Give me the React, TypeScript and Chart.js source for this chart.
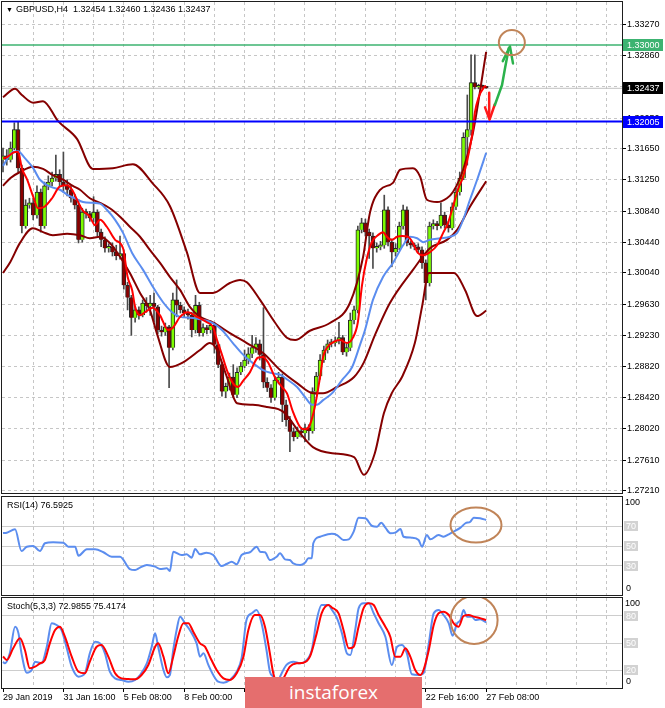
import { useEffect, useRef } from 'react'
import { Chart, registerables } from 'chart.js'

Chart.register(...registerables)

const FONT_FAMILY = '"Liberation Sans", Arial, sans-serif'
Chart.defaults.font.family = FONT_FAMILY
Chart.defaults.font.size = 9
Chart.defaults.color = '#000'

// time axis in bar units (H4 bars, bar 0 = 29 Jan 2019 00:00)
const X_MIN = -0.265
const X_MAX = 163.98
const Y_MIN = 1.27184
const Y_MAX = 1.33557

const timeLabels = [
  '29 Jan 2019', '31 Jan 16:00', '5 Feb 08:00', '8 Feb 00:00', '12 Feb 16:00',
  '15 Feb 08:00', '20 Feb 00:00', '22 Feb 16:00', '27 Feb 08:00',
]
const priceTicks = [
  1.3327, 1.3286, 1.3246, 1.3205, 1.3165, 1.3125, 1.3084, 1.3044,
  1.3004, 1.2963, 1.2923, 1.2882, 1.2842, 1.2802, 1.2761, 1.2721,
]
const rsiLevels = [30, 50, 70]
const stochLevels = [20, 50, 80]

const resistance = 1.33
const support = 1.32005
const bid = 1.32437

const opens = [
  1.3151, 1.3156, 1.3151, 1.3166, 1.3190, 1.3140, 1.3065, 1.3092, 1.3095, 1.3079,
  1.3109, 1.3065, 1.3117, 1.3122, 1.3127, 1.3132, 1.3122, 1.3117, 1.3112, 1.3101,
  1.3092, 1.3047, 1.3083, 1.3081, 1.3075, 1.3083, 1.3057, 1.3047, 1.3036, 1.3038,
  1.3031, 1.3026, 1.3029, 1.2988, 1.2972, 1.2946, 1.2956, 1.2949, 1.2965, 1.2961,
  1.2965, 1.2960, 1.2930, 1.2927, 1.2934, 1.2907, 1.2969, 1.2962, 1.2956, 1.2952,
  1.2949, 1.2930, 1.2962, 1.2926, 1.2933, 1.2930, 1.2936, 1.2911, 1.2885, 1.2850,
  1.2857, 1.2869, 1.2846, 1.2875, 1.2883, 1.2891, 1.2899, 1.2907, 1.2912, 1.2898,
  1.2862, 1.2855, 1.2842, 1.2865, 1.2869, 1.2833, 1.2813, 1.2798, 1.2791, 1.2799,
  1.2796, 1.2803, 1.2799, 1.2850, 1.2870, 1.2891, 1.2904, 1.2912, 1.2913, 1.2916,
  1.2920, 1.2901, 1.2907, 1.2943, 1.2956, 1.3060, 1.3069, 1.3057, 1.3052, 1.3036,
  1.3038, 1.3040, 1.3086, 1.3044, 1.3031, 1.3036, 1.3065, 1.3086, 1.3043, 1.3040,
  1.3038, 1.3034, 1.3017, 1.2991, 1.3065, 1.3068, 1.3065, 1.3079, 1.3066, 1.3062,
  1.3090, 1.3109, 1.3127, 1.3180, 1.3190, 1.3251, 1.3245, 1.3247, 1.32454,
]
const highs = [
  1.3166, 1.3164, 1.3174, 1.3199, 1.3200, 1.3144, 1.3099, 1.3101, 1.3101, 1.3117,
  1.3113, 1.3122, 1.3130, 1.3135, 1.3157, 1.3138, 1.3161, 1.3125, 1.3117, 1.3106,
  1.3099, 1.3088, 1.3087, 1.3084, 1.3103, 1.3086, 1.3061, 1.3051, 1.3042, 1.3043,
  1.3040, 1.3052, 1.3034, 1.2992, 1.2975, 1.2961, 1.2960, 1.2969, 1.2972, 1.2975,
  1.2978, 1.2962, 1.2935, 1.2939, 1.2936, 1.2978, 1.2995, 1.2966, 1.2960, 1.2957,
  1.2953, 1.2975, 1.2966, 1.2938, 1.2936, 1.2942, 1.2940, 1.2913, 1.2888, 1.2861,
  1.2874, 1.2885, 1.2881, 1.2888, 1.2904, 1.2907, 1.2923, 1.2920, 1.2917, 1.2959,
  1.2868, 1.2859, 1.2870, 1.2875, 1.2873, 1.2839, 1.2818, 1.2803, 1.2804, 1.2803,
  1.2808, 1.2807, 1.2855, 1.2875, 1.2898, 1.2909, 1.2917, 1.2918, 1.2921, 1.2940,
  1.2923, 1.2912, 1.2952, 1.2961, 1.3065, 1.3075, 1.3074, 1.3061, 1.3056, 1.3043,
  1.3045, 1.3105, 1.3090, 1.3048, 1.3042, 1.3070, 1.3092, 1.3090, 1.3045, 1.3043,
  1.3042, 1.3038, 1.3021, 1.3070, 1.3073, 1.3071, 1.3095, 1.3083, 1.3071, 1.3095,
  1.3114, 1.3135, 1.3186, 1.3235, 1.3287, 1.3287, 1.3249, 1.3248, 1.32460,
]
const lows = [
  1.3135, 1.3144, 1.3148, 1.3164, 1.3135, 1.3056, 1.3062, 1.3088, 1.3073, 1.3075,
  1.3057, 1.3062, 1.3112, 1.3117, 1.3123, 1.3117, 1.3109, 1.3104, 1.3096, 1.3087,
  1.3043, 1.3044, 1.3075, 1.3071, 1.3070, 1.3052, 1.3038, 1.3031, 1.3031, 1.3026,
  1.3021, 1.3022, 1.2983, 1.2956, 1.2923, 1.2940, 1.2944, 1.2947, 1.2953, 1.2949,
  1.2940, 1.2925, 1.2922, 1.2923, 1.2855, 1.2904, 1.2947, 1.2952, 1.2947, 1.2944,
  1.2921, 1.2926, 1.2922, 1.2922, 1.2925, 1.2926, 1.2900, 1.2881, 1.2844, 1.2842,
  1.2852, 1.2842, 1.2842, 1.2872, 1.2881, 1.2886, 1.2894, 1.2901, 1.2891, 1.2855,
  1.2850, 1.2836, 1.2839, 1.2860, 1.2811, 1.2805, 1.2772, 1.2786, 1.2789, 1.2791,
  1.2785, 1.2787, 1.2796, 1.2846, 1.2866, 1.2888, 1.2900, 1.2908, 1.2909, 1.2912,
  1.2898, 1.2896, 1.2903, 1.2938, 1.2952, 1.3056, 1.3052, 1.3023, 1.3010, 1.3031,
  1.3034, 1.3036, 1.3039, 1.3012, 1.3026, 1.3034, 1.3061, 1.3039, 1.3036, 1.3034,
  1.3030, 1.3010, 1.2969, 1.2987, 1.3061, 1.3060, 1.3062, 1.3062, 1.3057, 1.3060,
  1.3086, 1.3105, 1.3125, 1.3144, 1.3183, 1.3243, 1.3243, 1.3243, 1.32436,
]
const closes = [
  1.3156, 1.3151, 1.3166, 1.3190, 1.3140, 1.3065, 1.3092, 1.3095, 1.3079, 1.3109,
  1.3065, 1.3117, 1.3122, 1.3127, 1.3132, 1.3122, 1.3117, 1.3112, 1.3101, 1.3092,
  1.3047, 1.3083, 1.3081, 1.3075, 1.3083, 1.3057, 1.3047, 1.3036, 1.3038, 1.3031,
  1.3026, 1.3029, 1.2988, 1.2972, 1.2946, 1.2956, 1.2949, 1.2965, 1.2961, 1.2965,
  1.2960, 1.2930, 1.2927, 1.2934, 1.2907, 1.2969, 1.2962, 1.2956, 1.2952, 1.2949,
  1.2930, 1.2962, 1.2926, 1.2933, 1.2930, 1.2936, 1.2911, 1.2885, 1.2850, 1.2857,
  1.2869, 1.2846, 1.2875, 1.2883, 1.2891, 1.2899, 1.2907, 1.2912, 1.2898, 1.2862,
  1.2855, 1.2842, 1.2865, 1.2869, 1.2833, 1.2813, 1.2798, 1.2791, 1.2799, 1.2796,
  1.2803, 1.2799, 1.2850, 1.2870, 1.2891, 1.2904, 1.2912, 1.2913, 1.2916, 1.2920,
  1.2901, 1.2907, 1.2943, 1.2956, 1.3060, 1.3069, 1.3057, 1.3052, 1.3036, 1.3038,
  1.3040, 1.3086, 1.3044, 1.3031, 1.3036, 1.3065, 1.3086, 1.3043, 1.3040, 1.3038,
  1.3034, 1.3017, 1.2991, 1.3065, 1.3068, 1.3065, 1.3079, 1.3066, 1.3062, 1.3090,
  1.3109, 1.3127, 1.3180, 1.3190, 1.3251, 1.3245, 1.3247, 1.3245, 1.32437,
]

// [bar, price] readings of the indicator lines
const bbUpper = [
  [0, 1.3232], [3.2, 1.3243], [5, 1.3235], [8, 1.3225], [10.6, 1.3227], [14.6, 1.3201],
  [19.6, 1.3178], [23.8, 1.3139], [29.1, 1.314], [34.4, 1.3145], [39.7, 1.312], [44.2, 1.3091],
  [48.7, 1.3031], [52.2, 1.2978], [55.6, 1.2978], [60.1, 1.2991], [62.8, 1.2995], [64.6, 1.2992],
  [68.1, 1.2969], [72, 1.294], [75.2, 1.292], [77.4, 1.2917], [81.3, 1.2929], [86.6, 1.2939],
  [91.9, 1.2965], [95.4, 1.3025], [97.2, 1.3082], [99.9, 1.3112], [103.3, 1.3121], [105.2, 1.3138],
  [108.6, 1.314], [110.5, 1.3129], [112.3, 1.3099], [115, 1.3096], [117.6, 1.3101], [119.2, 1.3109],
  [121.9, 1.3138], [124.5, 1.3186], [128, 1.3291],
]
const bbMiddle = [
  [0, 1.3117], [1.9, 1.3127], [4.5, 1.3135], [7.9, 1.3142], [10.6, 1.3139], [13.2, 1.3131],
  [15.9, 1.3125], [18.5, 1.3117], [20.4, 1.3112], [23, 1.3101], [25.7, 1.3095], [28.3, 1.3088],
  [31, 1.3077], [33.6, 1.3064], [36.3, 1.3051], [38.9, 1.3034], [41.6, 1.3017], [44.2, 1.2999],
  [46.9, 1.2982], [49.5, 1.296], [52.2, 1.2947], [55.6, 1.294], [60.1, 1.2926], [64.6, 1.2913],
  [68.9, 1.29], [73.4, 1.2878], [77.9, 1.2861], [82.1, 1.2848], [84.8, 1.2848], [88.5, 1.2856],
  [93, 1.2869], [95.6, 1.2888], [98.5, 1.2923], [102.5, 1.2965], [108.6, 1.3008], [113.1, 1.3036],
  [117.6, 1.3047], [120.3, 1.306], [123.7, 1.309], [128, 1.3123],
]
const bbLower = [
  [0, 1.3004], [1.9, 1.3018], [4.5, 1.3043], [7.9, 1.3062], [10.6, 1.3057], [13.2, 1.3053],
  [17, 1.3055], [20.4, 1.3053], [23, 1.3049], [25.7, 1.3051], [28.3, 1.3043], [31, 1.3025],
  [33.6, 1.3004], [36.3, 1.2978], [38.9, 1.2956], [40.8, 1.2925], [44.2, 1.2882], [47.7, 1.2888],
  [52.2, 1.2904], [54.8, 1.2913], [56.7, 1.2904], [59.3, 1.2869], [62, 1.2835], [66.2, 1.2833],
  [69.9, 1.283], [74.2, 1.2824], [78.7, 1.2796], [82.1, 1.2778], [87.2, 1.277], [93, 1.2765],
  [95.6, 1.2742], [98.5, 1.277], [100.9, 1.2822], [103, 1.2848], [105.7, 1.2869], [109.1, 1.2913],
  [111, 1.296], [112.8, 1.3004], [119.5, 1.3004], [122.4, 1.2982], [125.6, 1.2948], [128, 1.2955],
]
const maSlow = [
  [0, 1.3143], [2.6, 1.3161], [4, 1.3162], [5.8, 1.3153], [8, 1.314], [9.8, 1.3125], [12.5, 1.3116],
  [15.1, 1.3112], [17.2, 1.3105], [19, 1.3101], [21.2, 1.3096], [23.8, 1.3095], [25.7, 1.3094],
  [27.5, 1.3086], [29.7, 1.3073], [31.8, 1.3056], [34.2, 1.303], [37.1, 1.3008], [39.7, 1.2986],
  [42.4, 1.2966], [44.8, 1.2953], [46.9, 1.2947], [49.5, 1.2946], [52.2, 1.2944], [55.6, 1.2939],
  [58, 1.293], [60.9, 1.2913], [63.6, 1.2898], [66.2, 1.2887], [68.9, 1.2878], [71.3, 1.2874],
  [73.4, 1.2872], [75.5, 1.2865], [77.9, 1.2856], [80, 1.2843], [81.9, 1.2833], [83.2, 1.2833],
  [84.8, 1.2839], [87.2, 1.2848], [89.8, 1.2865], [92.5, 1.2882], [94.6, 1.2911], [95.9, 1.293],
  [98, 1.2969], [100.7, 1.2999], [103.3, 1.3017], [106, 1.304], [107.8, 1.3051], [109.7, 1.3049],
  [111.3, 1.3044], [113.1, 1.3047], [115.8, 1.3049], [118.4, 1.3051], [120.3, 1.3056], [121.9, 1.3073],
  [123.7, 1.3099], [125.6, 1.3125], [128, 1.316],
]
const maFast = [
  [0, 1.3153], [1, 1.3154], [3.2, 1.3161], [4, 1.3161], [5, 1.314], [6.4, 1.3125], [8, 1.3103],
  [9.3, 1.3088], [11, 1.309], [13, 1.3101], [15, 1.3116], [17, 1.3118], [18.3, 1.3112], [20, 1.3095],
  [21, 1.3086], [23, 1.3077], [24.4, 1.3066], [25.7, 1.3073], [27.5, 1.3064], [29.7, 1.3047],
  [31.8, 1.3036], [33, 1.2999], [34.2, 1.2982], [35, 1.296], [36.3, 1.2949], [37.6, 1.2953],
  [39.7, 1.2959], [41.6, 1.2949], [43.7, 1.293], [45, 1.2933], [46.9, 1.2947], [49, 1.2953],
  [51.4, 1.2947], [54, 1.294], [55.6, 1.2934], [56.7, 1.2917], [58, 1.2898], [59.3, 1.2878],
  [60.9, 1.2861], [62.3, 1.2856], [63.6, 1.2864], [65.4, 1.2875], [67.5, 1.2894], [68.9, 1.2895],
  [70.2, 1.2888], [72, 1.2869], [73.9, 1.2856], [75.2, 1.2848], [76.8, 1.2824], [78.7, 1.2804],
  [80, 1.2801], [81.3, 1.2807], [82.6, 1.283], [84, 1.2869], [84.8, 1.2895], [86, 1.2908],
  [87.4, 1.2914], [89.3, 1.2917], [91.1, 1.2913], [92.7, 1.292], [94, 1.294], [95.1, 1.2988],
  [96.4, 1.3023], [97.7, 1.3044], [99.3, 1.3053], [100.7, 1.3057], [101.7, 1.3051], [103, 1.3047],
  [104.4, 1.3051], [105.7, 1.3052], [107.3, 1.3051], [108.6, 1.3043], [109.9, 1.303], [111.3, 1.3027],
  [113.1, 1.3031], [115, 1.304], [116.6, 1.3056], [117.9, 1.3069], [119.2, 1.309], [120.5, 1.3112],
  [121.9, 1.3129], [123.2, 1.3155], [124.5, 1.319], [125, 1.3212], [126, 1.3232], [127.4, 1.3245],
  [128, 1.3247],
]

// [bar, value]
const rsi = [
  [0, 63.2], [1, 63.6], [3.2, 67], [4.9, 44.9], [6.3, 49.3], [8, 50], [9.8, 44.9], [11.1, 52.8],
  [13.3, 53.8], [16, 53.4], [17.3, 49.3], [19.1, 49.3], [20, 40.1], [22.2, 46.6], [24.4, 46.6],
  [26.6, 43.6], [28.8, 39.1], [31, 39.1], [33.6, 26.5], [35, 25.5], [36.3, 27.9], [38.1, 30.6],
  [40.3, 28.9], [41.6, 26.5], [43.4, 27.2], [44.2, 24.5], [45.1, 44.2], [47.3, 40.8], [48.6, 41.5],
  [50, 38.1], [50.9, 46.9], [52.2, 41.5], [53.9, 43.2], [55.7, 40.8], [57.9, 29.6], [59.2, 31.6],
  [60.6, 34], [61.9, 31.3], [63.2, 40.8], [65.4, 43.6], [67.2, 49.3], [68.1, 44.2], [69.4, 43.6],
  [70.7, 35.7], [72.5, 39.1], [73.4, 42.6], [74.7, 36.4], [76, 35.7], [76.9, 32.3], [78.7, 30.6],
  [80, 33], [80.9, 37.4], [81.8, 37.4], [82.2, 52.8], [84, 59.5], [87.1, 62.5], [88.5, 61.2],
  [90.2, 56.1], [91.6, 56.8], [92.9, 64.6], [94.2, 78.9], [96, 78.3], [97.8, 70.4], [99.1, 69.7],
  [100.2, 73.8], [101.3, 68.7], [102.6, 63], [103.9, 63.6], [105.3, 67.3], [106.1, 59.5],
  [108.3, 58.5], [110.1, 56.1], [111, 49.3], [112.3, 61.2], [113.2, 56.8], [115.4, 61.2],
  [116.7, 59.5], [118.1, 61.9], [119.4, 64.6], [121.2, 68.7], [122.5, 73.2], [123.8, 74.8],
  [124.7, 78.9], [126.4, 78.3], [128, 76.59],
]
const stochMain = [
  [0, 29], [0.5, 27.4], [1.8, 38.5], [3.2, 68.1], [4.1, 60.7], [4.9, 38.5], [6.3, 17], [7.6, 20],
  [8.5, 29.3], [10.2, 27.4], [11.6, 45.9], [12.9, 71.9], [14.2, 70], [15.5, 64.4], [16.9, 44.1],
  [18.2, 23.7], [20, 12.6], [21.7, 16.3], [23, 38.5], [24.4, 51.5], [25.7, 49.6], [27, 38.5],
  [28.3, 18.1], [29.7, 10.7], [31.4, 8.9], [33.2, 7], [35, 8.9], [36.3, 14.4], [38.1, 27.4],
  [39.4, 45.9], [40.3, 60.7], [41.1, 45.9], [42.5, 20], [43.4, 11.9], [44.2, 14.4], [45.1, 42.2],
  [46, 64.4], [46.9, 79.3], [48.2, 71.9], [49.5, 64.4], [51.3, 49.6], [52.2, 34.8], [53.1, 38.5],
  [54.4, 25.6], [55.7, 14.4], [57, 7], [58.4, 5.9], [60.1, 8.9], [61.9, 18.1], [63.2, 33],
  [64.5, 75.6], [65.9, 83], [67.2, 86.7], [68.5, 71.9], [69.8, 42.2], [70.7, 18.1], [71.6, 12.6],
  [72.5, 4], [73.4, 12.6], [75.1, 25.6], [76.9, 29.3], [78.7, 27.4], [80, 29.3], [81.8, 42.2],
  [83.1, 75.6], [84.4, 92.2], [86.2, 92.2], [87.1, 87], [88.5, 77.4], [89.8, 60.7], [91.1, 38.5],
  [92, 36.7], [93.3, 64.4], [94.2, 88.5], [95.5, 94.1], [96.9, 94.1], [98.2, 83], [99.5, 71.9],
  [101.3, 57], [103, 25.6], [104.4, 45.9], [105.7, 47.8], [107, 38.5], [108.3, 15.2], [110.1, 14.4],
  [111.4, 16.3], [112.8, 49.6], [114.1, 83], [115.4, 86.7], [116.7, 81.1], [118.1, 71.9],
  [119.1, 58.1], [120.3, 71.9], [121.2, 75.6], [122, 86.7], [122.9, 79.3], [124.2, 79.3],
  [125.1, 75.6], [126.4, 76.3], [128, 72.99],
]
const stochSignal = [
  [0, 35], [1, 31.1], [2.7, 44.1], [4.5, 55.2], [5.8, 42.2], [7.1, 21.9], [8.5, 23.7], [9.8, 27.4],
  [11.1, 31.1], [12.4, 49.6], [13.8, 64.4], [15.1, 68.1], [16.4, 57], [18.2, 34.8], [20, 18.1],
  [21.7, 16.3], [23, 29.3], [24.8, 45.9], [26.1, 47.8], [27.9, 34.8], [29.7, 16.3], [31.4, 10.7],
  [33.2, 10], [35, 9.6], [36.7, 14.4], [38.5, 25.6], [40.3, 45.9], [41.1, 49.6], [42.5, 34.8],
  [43.8, 16.3], [45.1, 34.8], [46.4, 57], [47.8, 71.9], [49.1, 71.9], [50.4, 62.6], [52.2, 49.6],
  [53.5, 45.9], [54.8, 34.8], [56.6, 20], [58.4, 10.7], [60.1, 8.9], [61.9, 16.3], [63.7, 34.8],
  [65, 64.4], [66.7, 81.1], [68.1, 81.1], [69.4, 68.1], [70.7, 38.5], [71.6, 16.3], [72.9, 3],
  [74.3, 10.7], [76, 23.7], [77.8, 27.4], [79.6, 28.1], [81.3, 34.8], [83.1, 60.7], [84.4, 83],
  [86.2, 92.2], [87.1, 89.5], [88.9, 83], [90.2, 64.4], [91.6, 44.1], [92.9, 45.9], [94.2, 68.1],
  [95.5, 88.5], [96.9, 94.1], [98.2, 92.2], [99.5, 81.1], [101.3, 68.1], [102.6, 57], [103.9, 34.8],
  [105.3, 34.8], [106.6, 44.1], [107.9, 34.8], [109.2, 20], [110.6, 14.4], [111.4, 20], [112.8, 42.2],
  [114.1, 70], [115.4, 83], [116.7, 84.8], [118.1, 81.1], [119.4, 71.9], [120.7, 68.1], [122, 80],
  [123.4, 81.1], [124.7, 79.3], [126, 78.1], [128, 75.42],
]

// analyst drawings, [bar, price] / [bar, value]
const downArrow = [[128.8, 1.3238], [128.8, 1.3206]]
const downArrowHead = [[127.7, 1.3219], [128.9, 1.3203], [130.3, 1.3223]]
const upArrow = [[130.3, 1.3222], [132.2, 1.3248], [133, 1.327], [134, 1.3296]]
const upArrowHead = [[132.4, 1.3279], [134.3, 1.3298], [135.1, 1.3276]]
const targetMark = [134.8, 1.3303]
const rsiMark = [125.3, 71.4]
const stochMark = [124.8, 75.6]

const GRID = '#c6c6c6'
const LEVEL = '#cdcdcd'
const FRAME = '#1e1e1e'
const BAND = '#850000'
const SLOW = '#5b8def'
const FAST = '#ff0000'
const BULL = '#7cfc00'
const BEAR = '#8b0000'
const WICK = '#4a4a4a'
const MARK = '#c08458'
const FONT = `9px ${FONT_FAMILY}`

const gridBars = Array.from({ length: 21 }, (_, i) => i * 8)
const labelFor = (v: number) => (v % 16 === 0 && v / 16 < timeLabels.length ? timeLabels[v / 16] : '')
const pts = (list: number[][]) => list.map(([x, y]) => ({ x, y }))
const hline = (v: number) => [{ x: X_MIN, y: v }, { x: X_MAX, y: v }]

function line(data: any[], color: string, order: number, width = 2) {
  return {
    type: 'line', data, borderColor: color, borderWidth: width, pointRadius: 0,
    cubicInterpolationMode: 'monotone', fill: false, order,
  }
}

function timeAxis(showLabels: boolean) {
  return {
    type: 'linear', min: X_MIN, max: X_MAX, bounds: 'data', offset: false,
    afterBuildTicks: (s: any) => { s.ticks = gridBars.map((v) => ({ value: v })) },
    afterFit: (s: any) => {
      s.height = showLabels ? 20 : 0
      s.paddingLeft = 0
      s.paddingRight = 0
    },
    ticks: {
      display: showLabels, autoSkip: false, maxRotation: 0, minRotation: 0, align: 'start',
      padding: 0, color: '#000', callback: (v: any) => labelFor(Number(v)),
    },
    grid: {
      offset: false, drawTicks: showLabels, tickLength: 4, tickBorderDash: [],
      color: (c: any) => (c.tick && c.tick.value === 0 ? 'rgba(0,0,0,0)' : GRID),
      tickColor: (c: any) => (c.tick && labelFor(c.tick.value) ? '#000' : 'rgba(0,0,0,0)'),
    },
    border: { display: showLabels, color: '#000', dash: [3, 3] },
  }
}

function frame(ctx: CanvasRenderingContext2D, a: any) {
  ctx.strokeStyle = FRAME
  ctx.lineWidth = 1
  ctx.strokeRect(a.left - 0.5, a.top - 0.5, a.right - a.left + 1, a.bottom - a.top + 1)
}

function polyline(ctx: CanvasRenderingContext2D, chart: any, path: number[][], color: string, width: number) {
  const { x, y } = chart.scales
  ctx.beginPath()
  path.forEach(([bx, v], i) => {
    const px = x.getPixelForValue(bx)
    const py = y.getPixelForValue(v)
    if (i) ctx.lineTo(px, py)
    else ctx.moveTo(px, py)
  })
  ctx.strokeStyle = color
  ctx.lineWidth = width
  ctx.lineCap = 'round'
  ctx.lineJoin = 'round'
  ctx.stroke()
}

function ellipse(ctx: CanvasRenderingContext2D, chart: any, at: number[], rx: number, ry: number) {
  const { x, y } = chart.scales
  ctx.beginPath()
  ctx.ellipse(x.getPixelForValue(at[0]), y.getPixelForValue(at[1]), rx, ry, 0, 0, Math.PI * 2)
  ctx.strokeStyle = MARK
  ctx.lineWidth = 2
  ctx.stroke()
}

const mainOverlay = {
  id: 'mainOverlay',
  afterDraw(chart: any) {
    const { ctx, chartArea: a, scales } = chart
    ctx.save()
    frame(ctx, a)
    const tags = [
      { value: resistance, bg: '#3cb371' },
      { value: bid, bg: '#000000' },
      { value: support, bg: '#0000ff' },
    ]
    ctx.font = FONT
    ctx.textBaseline = 'middle'
    for (const t of tags) {
      const py = Math.round(scales.y.getPixelForValue(t.value))
      ctx.fillStyle = t.bg
      ctx.fillRect(a.right + 1, py - 6, 40, 12)
      ctx.fillStyle = '#fff'
      ctx.fillText(t.value.toFixed(5), a.right + 5, py + 0.5)
    }
    ctx.beginPath()
    ctx.rect(a.left, a.top, a.right - a.left, a.bottom - a.top)
    ctx.clip()
    polyline(ctx, chart, downArrow, '#ff1a1a', 2.5)
    polyline(ctx, chart, downArrowHead, '#ff1a1a', 2.5)
    polyline(ctx, chart, upArrow, '#2bb24c', 2.5)
    polyline(ctx, chart, upArrowHead, '#2bb24c', 2.5)
    ellipse(ctx, chart, targetMark, 13, 12.5)
    ctx.restore()
  },
}

function panelOverlay(levels: number[], mark: number[], rx: number, ry: number) {
  return {
    id: 'panelOverlay',
    afterDraw(chart: any) {
      const { ctx, chartArea: a, scales } = chart
      ctx.save()
      frame(ctx, a)
      ctx.font = FONT
      ctx.textBaseline = 'middle'
      ctx.fillStyle = '#000'
      ctx.fillText('100', a.right + 3, a.top + 6)
      ctx.fillText('0', a.right + 4, a.bottom - 6)
      for (const lv of levels) {
        const py = Math.round(scales.y.getPixelForValue(lv))
        const w = ctx.measureText(String(lv)).width
        ctx.fillStyle = '#d2d2d2'
        ctx.fillRect(a.right + 2, py - 5, w + 4, 10)
        ctx.fillStyle = '#fff'
        ctx.fillText(String(lv), a.right + 4, py + 0.5)
      }
      ctx.beginPath()
      ctx.rect(a.left, a.top, a.right - a.left, a.bottom - a.top)
      ctx.clip()
      ellipse(ctx, chart, mark, rx, ry)
      ctx.restore()
    },
  }
}

const baseOptions = (padding: any) => ({
  animation: false,
  responsive: false,
  events: [],
  layout: { padding },
  plugins: { legend: { display: false }, tooltip: { enabled: false } },
})

function oscillatorAxis(levels: number[]) {
  return {
    type: 'linear', position: 'right', min: 0, max: 100, bounds: 'data',
    afterBuildTicks: (s: any) => { s.ticks = levels.map((v) => ({ value: v })) },
    afterFit: (s: any) => {
      s.width = 43
      s.paddingTop = 0
      s.paddingBottom = 0
    },
    ticks: { display: false },
    grid: { color: LEVEL, drawTicks: false },
    border: { display: true, color: '#000', dash: [] },
  }
}

function mainConfig(): any {
  const bars = opens.map((_, i) => i)
  return {
    type: 'line',
    data: {
      datasets: [
        line(hline(bid), '#c0c0c0', 30, 1),
        {
          type: 'bar', order: 20, grouped: false, barThickness: 1, minBarLength: 1,
          data: bars.map((i) => ({ x: i, y: [lows[i], highs[i]] })),
          backgroundColor: WICK,
        },
        {
          type: 'bar', order: 19, grouped: false, barThickness: 4, minBarLength: 2,
          data: bars.map((i) => ({ x: i, y: [opens[i], closes[i]] })),
          backgroundColor: bars.map((i) => (closes[i] >= opens[i] ? BULL : BEAR)),
          borderColor: '#262626',
          borderWidth: 1,
        },
        line(pts(bbUpper), BAND, 10),
        line(pts(bbMiddle), BAND, 10),
        line(pts(bbLower), BAND, 10),
        line(pts(maSlow), SLOW, 5),
        line(pts(maFast), FAST, 4),
        line(hline(resistance), '#3cb371', 2, 1.5),
        line(hline(support), '#0000ff', 2, 2),
      ],
    },
    options: {
      ...baseOptions({ left: 2, right: 0, top: 2, bottom: 2 }),
      scales: {
        x: timeAxis(false),
        y: {
          type: 'linear', position: 'right', min: Y_MIN, max: Y_MAX, bounds: 'data',
          afterBuildTicks: (s: any) => { s.ticks = priceTicks.map((v) => ({ value: v })) },
          afterFit: (s: any) => {
            s.width = 43
            s.paddingTop = 0
            s.paddingBottom = 0
          },
          ticks: { autoSkip: false, color: '#000', padding: 1, callback: (v: any) => Number(v).toFixed(5) },
          grid: { color: GRID, tickLength: 4, tickColor: '#000', tickBorderDash: [] },
          border: { display: true, color: '#000', dash: [3, 3] },
        },
      },
    },
    plugins: [mainOverlay],
  }
}

function rsiConfig(): any {
  return {
    type: 'line',
    data: { datasets: [line(pts(rsi), SLOW, 1)] },
    options: {
      ...baseOptions({ left: 2, right: 0, top: 2, bottom: 1 }),
      scales: { x: timeAxis(false), y: oscillatorAxis(rsiLevels) },
    },
    plugins: [panelOverlay(rsiLevels, rsiMark, 25.5, 17.5)],
  }
}

function stochConfig(): any {
  return {
    type: 'line',
    data: {
      datasets: [line(pts(stochMain), SLOW, 2), line(pts(stochSignal), FAST, 1)],
    },
    options: {
      ...baseOptions({ left: 2, right: 0, top: 2, bottom: 0 }),
      scales: { x: timeAxis(true), y: oscillatorAxis(stochLevels) },
    },
    plugins: [panelOverlay(stochLevels, stochMark, 23.5, 24)],
  }
}

const textStyle: any = {
  position: 'absolute', font: FONT, lineHeight: '11px', color: '#000', whiteSpace: 'pre',
}

export default function App() {
  const mainRef = useRef<HTMLCanvasElement>(null)
  const rsiRef = useRef<HTMLCanvasElement>(null)
  const stochRef = useRef<HTMLCanvasElement>(null)

  useEffect(() => {
    if (!mainRef.current || !rsiRef.current || !stochRef.current) return
    const charts = [
      new Chart(mainRef.current, mainConfig()),
      new Chart(rsiRef.current, rsiConfig()),
      new Chart(stochRef.current, stochConfig()),
    ]
    return () => charts.forEach((c) => c.destroy())
  }, [])

  return (
    <div style={{ position: 'absolute', left: 0, top: 0, width: 665, height: 708, background: '#fff', overflow: 'hidden' }}>
      <canvas ref={mainRef} width={665} height={495} style={{ position: 'absolute', left: 0, top: 0 }} />
      <canvas ref={rsiRef} width={665} height={101} style={{ position: 'absolute', left: 0, top: 495 }} />
      <canvas ref={stochRef} width={665} height={112} style={{ position: 'absolute', left: 0, top: 596 }} />
      <div style={{ ...textStyle, left: 6, top: 4 }}>
        <span style={{ fontSize: 7, marginRight: 3 }}>▼</span>GBPUSD,H4  1.32454 1.32460 1.32436 1.32437
      </div>
      <div style={{ ...textStyle, left: 7, top: 500 }}>RSI(14) 76.5925</div>
      <div style={{ ...textStyle, left: 7, top: 601 }}>Stoch(5,3,3) 72.9855 75.4174</div>
      <div
        style={{
          position: 'absolute', left: 245, top: 677, width: 177, height: 31, background: '#e56e6e',
          color: '#fff', font: '19px "Open Sans", sans-serif', lineHeight: '30px', paddingLeft: 44,
          boxSizing: 'border-box',
        }}
      >
        instaforex
      </div>
    </div>
  )
}
